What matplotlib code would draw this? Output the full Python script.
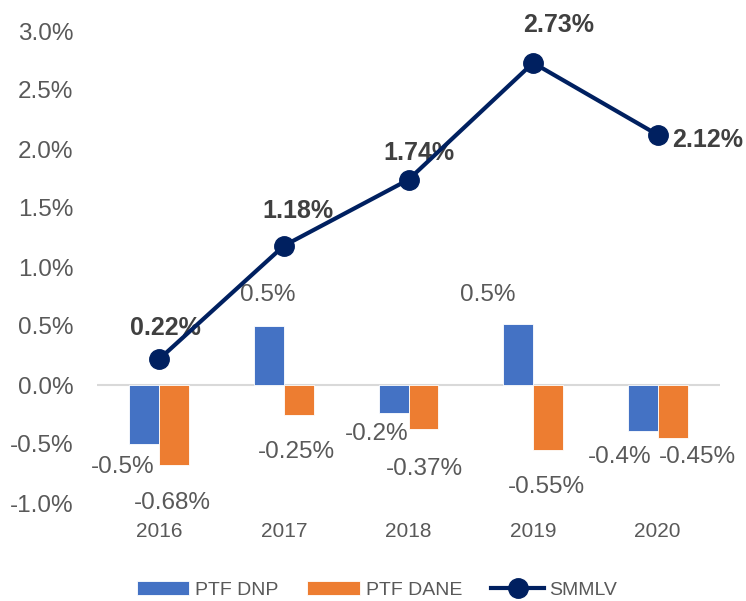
import numpy as np
import matplotlib
matplotlib.use('Agg')
import matplotlib.pyplot as plt

plt.rcParams['font.family'] = ['Liberation Sans', 'DejaVu Sans']

years = ['2016', '2017', '2018', '2019', '2020']
ptf_dnp = [-0.50, 0.50, -0.24, 0.52, -0.39]
ptf_dane = [-0.68, -0.25, -0.37, -0.55, -0.45]
smmlv = [0.22, 1.18, 1.74, 2.73, 2.12]

dnp_labels = ['-0.5%', '0.5%', '-0.2%', '0.5%', '-0.4%']
dane_labels = ['-0.68%', '-0.25%', '-0.37%', '-0.55%', '-0.45%']
smmlv_labels = ['0.22%', '1.18%', '1.74%', '2.73%', '2.12%']
yticks = [-1.0, -0.5, 0.0, 0.5, 1.0, 1.5, 2.0, 2.5, 3.0]

# label offsets in pixels (dx, dy) relative to bar end / point
dnp_off = [(-22, -23), (-1, 31), (-17, -21), (-30, 29), (-23, -26)]
dane_off = [(-2, -38), (-2, -37), (1, -40), (-2, -37), (25, -19)]
smmlv_off = [(6, 31), (14, 35), (10, 27), (26, 38), (50, -5)]

fig = plt.figure(figsize=(7.46, 6.01), dpi=100)
ax = fig.add_axes([97 / 746, 1 - 503 / 601, 623 / 746, 472 / 601])

x = np.arange(len(years))
w = 0.24
b1 = ax.bar(x - w / 2, ptf_dnp, w, color='#4472C4', edgecolor='white', linewidth=0.6, label='PTF DNP', zorder=2)
b2 = ax.bar(x + w / 2, ptf_dane, w, color='#ED7D31', edgecolor='white', linewidth=0.6, label='PTF DANE', zorder=2)
ln, = ax.plot(x, smmlv, color='#002060', linewidth=3, marker='o', markersize=14, label='SMMLV', zorder=4)

ax.axhline(0, color='#D9D9D9', linewidth=1.5, zorder=1)

for i in range(len(years)):
    ax.annotate(dnp_labels[i], (x[i] - w / 2, ptf_dnp[i]), xytext=dnp_off[i], textcoords='offset pixels',
                ha='center', va='center', fontsize=17.5, color='#595959', annotation_clip=False)
    ax.annotate(dane_labels[i], (x[i] + w / 2, ptf_dane[i]), xytext=dane_off[i], textcoords='offset pixels',
                ha='center', va='center', fontsize=17.5, color='#595959', annotation_clip=False)
    ax.annotate(smmlv_labels[i], (x[i], smmlv[i]), xytext=smmlv_off[i], textcoords='offset pixels',
                ha='center', va='center', fontsize=18, fontweight='bold', color='#404040',
                annotation_clip=False)

ax.set_xlim(-0.5, len(years) - 0.5)
ax.set_ylim(-1.0, 3.0)
ax.set_yticks(yticks)
ax.set_yticklabels([f'{v:.1f}%' for v in yticks], fontsize=17.5, color='#595959')
ax.set_xticks(x)
ax.set_xticklabels(years, fontsize=15, color='#595959')
ax.tick_params(axis='y', length=0, pad=17)
ax.tick_params(axis='x', length=0, pad=14)
for s in ax.spines.values():
    s.set_visible(False)

fig.legend(handles=[b1, b2, ln], loc='center', bbox_to_anchor=(377 / 746, 1 - 590 / 601), ncol=3,
           frameon=False, fontsize=14, handlelength=2.7, handleheight=0.67, handletextpad=0.3,
           columnspacing=1.5, labelcolor='#595959')

plt.savefig('out.png', dpi=100)
